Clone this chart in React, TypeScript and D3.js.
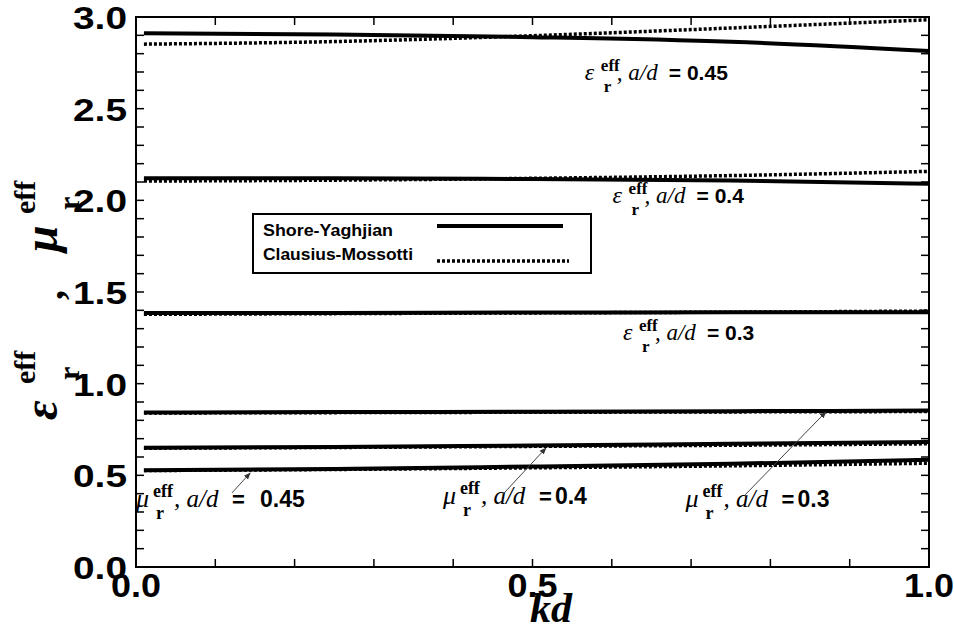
import * as d3 from "d3";

// kd sample points
const kd = [0.01, 0.25, 0.5, 0.75, 1.0];

// Shore-Yaghjian (solid) and Clausius-Mossotti (dotted)
const epsSY45 = [2.912, 2.905, 2.89, 2.865, 2.815];
const epsCM45 = [2.852, 2.866, 2.898, 2.94, 2.985];
const epsSY40 = [2.12, 2.12, 2.116, 2.108, 2.09];
const epsCM40 = [2.105, 2.11, 2.12, 2.135, 2.158];
const epsSY30 = [1.385, 1.386, 1.388, 1.389, 1.39];
const epsCM30 = [1.378, 1.382, 1.386, 1.39, 1.396];
const muSY30 = [0.843, 0.845, 0.847, 0.85, 0.853];
const muCM30 = [0.84, 0.842, 0.844, 0.846, 0.848];
const muSY40 = [0.65, 0.655, 0.663, 0.672, 0.682];
const muCM40 = [0.648, 0.652, 0.658, 0.664, 0.672];
const muSY45 = [0.528, 0.535, 0.548, 0.563, 0.585];
const muCM45 = [0.526, 0.532, 0.541, 0.552, 0.566];

const solidSeries = [epsSY45, epsSY40, epsSY30, muSY30, muSY40, muSY45];
const dottedSeries = [epsCM45, epsCM40, epsCM30, muCM30, muCM40, muCM45];

const xTicks = [0.0, 0.5, 1.0];
const yTicks = [0.0, 0.5, 1.0, 1.5, 2.0, 2.5, 3.0];
const legendNames = ["Shore-Yaghjian", "Clausius-Mossotti"];

// annotation anchors in data units: [kd, value]
const epsLabels = [
  { ad: "0.45", at: [0.566, 2.657] },
  { ad: "0.4", at: [0.601, 1.986] },
  { ad: "0.3", at: [0.614, 1.238] },
];
const muLabels = [
  { ad: "0.45", at: [0.0, 0.33] },
  { ad: "0.4", at: [0.387, 0.342] },
  { ad: "0.3", at: [0.693, 0.327] },
];
// arrows: from [kd, value] to [kd, value]
const arrows = [
  [[0.121, 0.404], [0.144, 0.513]],
  [[0.463, 0.398], [0.517, 0.649]],
  [[0.768, 0.393], [0.87, 0.846]],
];

const width = 954;
const height = 626;
const margin = { top: 17, right: 25, bottom: 59, left: 136 };

const serif = "'Liberation Serif', 'Times New Roman', serif";
const sans = "'Liberation Sans', Arial, sans-serif";

export default function App() {
  const x = d3.scaleLinear().domain([0, 1]).range([margin.left, width - margin.right]);
  const y = d3.scaleLinear().domain([0, 3]).range([height - margin.bottom, margin.top]);

  const line = (vals: number[]) =>
    d3
      .line<number>()
      .x((_, i) => x(kd[i]))
      .y((d) => y(d))
      .curve(d3.curveMonotoneX)(vals) as string;

  const minorX = d3.range(0, 1.0001, 0.1);
  const minorY = d3.range(0, 3.0001, 0.1);
  const tl = 8;
  const x0 = x(0), x1 = x(1), y0 = y(0), y1 = y(3);

  const epsLabel = (l: { ad: string; at: number[] }, i: number) => (
    <g key={"e" + i} transform={`translate(${x(l.at[0])},${y(l.at[1])})`}>
      <text x={0} y={0} fontFamily={serif} fontStyle="italic" fontSize={24}>ε</text>
      <text x={16} y={-9} fontFamily={serif} fontWeight="bold" fontSize={17}>eff</text>
      <text x={19} y={12} fontFamily={serif} fontWeight="bold" fontSize={17}>r</text>
      <text x={32} y={0} fontFamily={serif} fontStyle="italic" fontSize={23}>, a/d</text>
      <text x={84} y={0} fontFamily={sans} fontWeight="bold" fontSize={21}>{`= ${l.ad}`}</text>
    </g>
  );

  const muLabel = (l: { ad: string; at: number[] }, i: number) => (
    <g key={"m" + i} transform={`translate(${x(l.at[0])},${y(l.at[1])})`}>
      <text x={0} y={0} fontFamily={serif} fontStyle="italic" fontSize={26}>μ</text>
      <text x={17} y={-10} fontFamily={serif} fontWeight="bold" fontSize={18}>eff</text>
      <text x={20} y={12} fontFamily={serif} fontWeight="bold" fontSize={18}>r</text>
      <text x={38} y={0} fontFamily={serif} fontStyle="italic" fontSize={25}>, a/d</text>
      <text x={96} y={0} fontFamily={sans} fontWeight="bold" fontSize={22}>=</text>
      <text x={l.ad.length > 3 ? 124 : 112} y={0} fontFamily={sans} fontWeight="bold" fontSize={23}>
        {l.ad}
      </text>
    </g>
  );

  return (
    <svg width={width} height={height} style={{ position: "absolute", left: 0, top: 0 }}>
      <defs>
        <marker id="ah" viewBox="0 0 10 10" refX="9" refY="5" markerWidth="7" markerHeight="7" orient="auto">
          <path d="M0,1 L10,5 L0,9 z" fill="#333" />
        </marker>
      </defs>
      <rect width={width} height={height} fill="#fff" />

      {/* data */}
      {dottedSeries.map((s, i) => (
        <path key={"d" + i} d={line(s)} fill="none" stroke="#000" strokeWidth={3.5} strokeDasharray="3,2" />
      ))}
      {solidSeries.map((s, i) => (
        <path key={"s" + i} d={line(s)} fill="none" stroke="#000" strokeWidth={4} />
      ))}

      {/* frame and ticks */}
      <rect x={x0} y={y1} width={x1 - x0} height={y0 - y1} fill="none" stroke="#000" strokeWidth={2} />
      {minorX.map((t, i) => (
        <g key={"tx" + i} stroke="#000" strokeWidth={1.5}>
          <line x1={x(t)} x2={x(t)} y1={y0} y2={y0 - tl} />
          <line x1={x(t)} x2={x(t)} y1={y1} y2={y1 + tl} />
        </g>
      ))}
      {minorY.map((t, i) => (
        <g key={"ty" + i} stroke="#000" strokeWidth={1.5}>
          <line x1={x0} x2={x0 + tl} y1={y(t)} y2={y(t)} />
          <line x1={x1} x2={x1 - tl} y1={y(t)} y2={y(t)} />
        </g>
      ))}

      {/* tick labels */}
      {yTicks.map((t) => (
        <text
          key={"yl" + t}
          x={127}
          y={y(t) + 12}
          textAnchor="end"
          fontFamily={sans}
          fontWeight="bold"
          fontSize={32}
          textLength={54}
          lengthAdjust="spacingAndGlyphs"
        >
          {t.toFixed(1)}
        </text>
      ))}
      {xTicks.map((t) => (
        <text
          key={"xl" + t}
          x={x(t)}
          y={597}
          textAnchor="middle"
          fontFamily={sans}
          fontWeight="bold"
          fontSize={34}
          textLength={50}
          lengthAdjust="spacingAndGlyphs"
        >
          {t.toFixed(1)}
        </text>
      ))}

      {/* axis titles */}
      <text x={530} y={622} fontFamily={serif} fontStyle="italic" fontWeight="bold" fontSize={42}>
        kd
      </text>
      <g transform="translate(57,420) rotate(-90)" fontFamily={serif} fontWeight="bold">
        <text x={0} y={0} fontStyle="italic" fontSize={48}>ε</text>
        <text x={36} y={-22} fontSize={30}>eff</text>
        <text x={40} y={22} fontSize={30}>r</text>
        <text x={120} y={6} fontSize={40}>,</text>
        <text x={168} y={0} fontStyle="italic" fontSize={48}>μ</text>
        <text x={206} y={-22} fontSize={30}>eff</text>
        <text x={210} y={22} fontSize={30}>r</text>
      </g>

      {/* legend */}
      <rect x={253} y={214} width={338} height={59} fill="#fff" stroke="#000" strokeWidth={2} />
      {legendNames.map((n, i) => (
        <text
          key={n}
          x={263}
          y={236 + i * 24}
          fontFamily={sans}
          fontWeight="bold"
          fontSize={16}
          textLength={i === 0 ? 130 : 150}
          lengthAdjust="spacingAndGlyphs"
        >
          {n}
        </text>
      ))}
      <line x1={437} x2={563} y1={226} y2={226} stroke="#000" strokeWidth={4} />
      <line x1={437} x2={569} y1={261} y2={261} stroke="#000" strokeWidth={3.5} strokeDasharray="3,2" />

      {/* annotations */}
      {epsLabels.map(epsLabel)}
      {muLabels.map(muLabel)}
      {arrows.map((a, i) => (
        <line
          key={"ar" + i}
          x1={x(a[0][0])}
          y1={y(a[0][1])}
          x2={x(a[1][0])}
          y2={y(a[1][1])}
          stroke="#444"
          strokeWidth={1}
          markerEnd="url(#ah)"
        />
      ))}
    </svg>
  );
}
